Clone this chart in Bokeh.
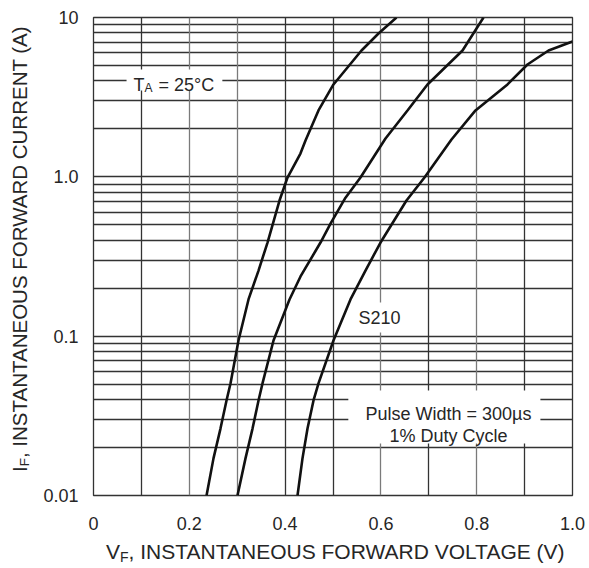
from bokeh.plotting import figure
from bokeh.models import Range1d, FixedTicker, Label, BoxAnnotation, Div, Grid
from bokeh.layouts import row, column
from bokeh.embed import file_html
from bokeh.resources import INLINE

# ---- data: forward voltage (V) vs instantaneous forward current (A) ----
c1_v = [0.236, 0.2505, 0.2651, 0.2777, 0.286, 0.3027, 0.3236, 0.3445, 0.3633,
        0.3883, 0.405, 0.432, 0.4426, 0.4697, 0.501, 0.5595, 0.595, 0.6326]
c1_i = [0.01, 0.0171, 0.0263, 0.0395, 0.0505, 0.094, 0.170, 0.258, 0.387,
        0.710, 0.99, 1.40, 1.69, 2.61, 3.80, 6.21, 7.94, 10.0]

c2_v = [0.3006, 0.3173, 0.332, 0.3445, 0.3528, 0.3758, 0.4092, 0.4322, 0.4739,
        0.4948, 0.5261, 0.5574, 0.6096, 0.6555, 0.6973, 0.7704, 0.8142]
c2_i = [0.01, 0.0171, 0.0263, 0.0395, 0.0505, 0.094, 0.170, 0.237, 0.387,
        0.509, 0.74, 0.99, 1.74, 2.61, 3.80, 6.21, 10.0]

c3_v = [0.4259, 0.4363, 0.4468, 0.4593, 0.4697, 0.501, 0.5365, 0.5678, 0.5992,
        0.6534, 0.691, 0.7474, 0.7975, 0.8643, 0.906, 0.95, 1.0]
c3_i = [0.01, 0.0171, 0.0263, 0.0395, 0.0505, 0.094, 0.170, 0.258, 0.387,
        0.710, 0.99, 1.715, 2.61, 3.80, 5.07, 6.21, 7.06]

x_ticks = [0.0, 0.2, 0.4, 0.6, 0.8, 1.0]
x_tick_labels = ["0", "0.2", "0.4", "0.6", "0.8", "1.0"]
y_ticks = [0.01, 0.1, 1.0, 10.0]
y_tick_labels = ["0.01", "0.1", "1.0", "10"]
x_grid_dark = [0.0, 0.1, 0.4, 0.5, 0.7, 0.9]
x_grid_light = [0.2, 0.3, 0.6, 0.8, 1.0]
y_grid = [m * 10.0 ** e for e in (-2, -1, 0) for m in range(1, 10)] + [10.0]

FONT = "Liberation Sans"
TXT = "#262626"
GRID = "#333333"
GRID_LIGHT = "#7a7a7a"

p = figure(width=552, height=542, output_backend="svg", toolbar_location=None,
           y_axis_type="log", x_range=Range1d(0.0, 1.0), y_range=Range1d(0.01, 10.0),
           min_border_left=59, min_border_right=14, min_border_top=17, min_border_bottom=47,
           background_fill_color="white", border_fill_color="white")

p.outline_line_color = GRID
p.outline_line_width = 1.3

p.xgrid.ticker = FixedTicker(ticks=x_grid_dark)
p.ygrid.ticker = FixedTicker(ticks=y_grid)
for g in (p.xgrid, p.ygrid):
    g.grid_line_color = GRID
    g.grid_line_width = 1.3
    g.minor_grid_line_color = None
p.add_layout(Grid(dimension=0, ticker=FixedTicker(ticks=x_grid_light),
                  grid_line_color=GRID_LIGHT, grid_line_width=1.3))

p.xaxis.ticker = FixedTicker(ticks=x_ticks)
p.xaxis.major_label_overrides = dict(zip(x_ticks, x_tick_labels))
p.yaxis.ticker = FixedTicker(ticks=y_ticks)
p.yaxis.major_label_overrides = dict(zip(y_ticks, y_tick_labels))
for ax in (p.xaxis, p.yaxis):
    ax.axis_line_color = None
    ax.major_tick_line_color = None
    ax.minor_tick_line_color = None
    ax.major_tick_out = 0
    ax.major_tick_in = 0
    ax.major_label_text_font = FONT
    ax.major_label_text_font_size = "18px"
    ax.major_label_text_color = TXT
p.xaxis.major_label_standoff = 21
p.yaxis.major_label_standoff = 15

for vv, ii in ((c1_v, c1_i), (c2_v, c2_i), (c3_v, c3_i)):
    p.line(vv, ii, line_color="#111111", line_width=2.6)

# white boxes behind annotations
for l, r, b, t in ((0.069, 0.269, 3.48, 4.72),
                   (0.532, 0.933, 0.0212, 0.0456),
                   (0.547, 0.647, 0.1054, 0.1626)):
    p.add_layout(BoxAnnotation(left=l, right=r, bottom=b, top=t,
                               fill_color="white", fill_alpha=1.0, line_color=None))

def lab(x, y, text, size, align="left", baseline="alphabetic"):
    p.add_layout(Label(x=x, y=y, text=text, text_font=FONT, text_font_size=size,
                       text_color=TXT, text_align=align, text_baseline=baseline))

# T_A = 25 C
lab(0.0835, 3.77, "T", "18px")
lab(0.1065, 3.61, "A", "12px")
lab(0.1357, 3.77, "= 25°C", "18px")
# S210
lab(0.5532, 0.1291, "S210", "18px", baseline="middle")
# pulse conditions
lab(0.7411, 0.0327, "Pulse Width = 300µs", "18px", align="center", baseline="middle")
lab(0.7411, 0.02379, "1% Duty Cycle", "18px", align="center", baseline="middle")

# axis titles (with subscripts) as HTML text
title_css = ("white-space:nowrap;font-family:'Liberation Sans';line-height:1;"
             "color:%s;" % TXT)
y_title = Div(width=34, height=542, margin=0, text=(
    '<div style="position:relative;width:34px;height:542px;">'
    '<div style="position:absolute;left:10px;top:472px;transform-origin:0 0;'
    'transform:rotate(-90deg);font-size:20.5px;' + title_css + '">'
    'I<span style="font-size:13.5px;position:relative;top:2px;">F</span>'
    ', INSTANTANEOUS FORWARD CURRENT (A)</div></div>'))
x_title = Div(width=586, height=23, margin=0, text=(
    '<div style="position:relative;width:586px;height:23px;">'
    '<div style="position:absolute;left:106px;top:-1px;font-size:21px;' + title_css + '">'
    'V<span style="font-size:14px;position:relative;top:3px;">F</span>'
    ', INSTANTANEOUS FORWARD VOLTAGE (V)</div></div>'))

layout = column(row(y_title, p, margin=0, spacing=0), x_title, margin=0, spacing=0)
open("out.html", "w").write(file_html(layout, INLINE))
